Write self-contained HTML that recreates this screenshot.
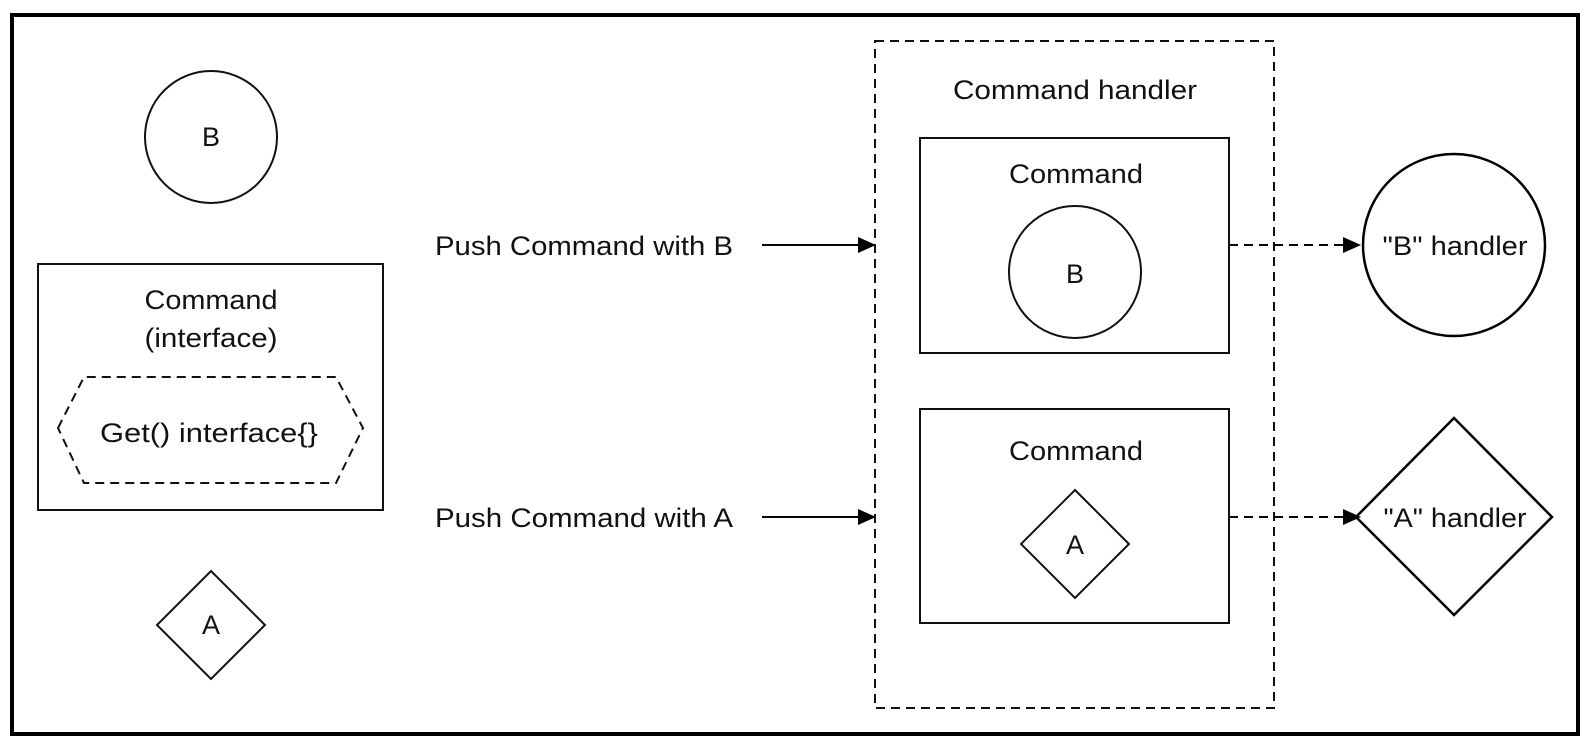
<!DOCTYPE html>
<html><head><meta charset="utf-8"><style>
html,body{margin:0;padding:0;background:#fff;}
svg{display:block;}
text{font-family:"Liberation Sans",Arial,sans-serif;font-size:27px;fill:#111;}
</style></head><body>
<svg width="1594" height="742" viewBox="0 0 1594 742" xmlns="http://www.w3.org/2000/svg">
<defs>
<marker id="ar" markerWidth="20" markerHeight="20" refX="18" refY="8" orient="auto" markerUnits="userSpaceOnUse">
<path d="M0,0 L18,8 L0,16 Z" fill="#000"/>
</marker>
</defs>
<rect x="12" y="15" width="1566" height="719" fill="#fff" stroke="#000" stroke-width="4"/>

<circle cx="211" cy="137" r="66" fill="none" stroke="#111" stroke-width="2"/>
<text x="211" y="146" text-anchor="middle">B</text>

<rect x="38" y="264" width="345" height="246" fill="none" stroke="#111" stroke-width="2"/>
<text x="211" y="309" text-anchor="middle" textLength="133" lengthAdjust="spacingAndGlyphs">Command</text>
<text x="211" y="347" text-anchor="middle" textLength="133" lengthAdjust="spacingAndGlyphs">(interface)</text>
<polygon points="58,428 84,377 336,377 363,428 336,483 84,483" fill="none" stroke="#111" stroke-width="2" stroke-dasharray="9,6"/>
<text x="209" y="442" text-anchor="middle" textLength="218" lengthAdjust="spacingAndGlyphs">Get() interface{}</text>

<polygon points="211,571 265,625 211,679 157,625" fill="none" stroke="#111" stroke-width="2"/>
<text x="211" y="634" text-anchor="middle">A</text>

<text x="435" y="255" textLength="298" lengthAdjust="spacingAndGlyphs">Push Command with B</text>
<line x1="762" y1="245" x2="876" y2="245" stroke="#000" stroke-width="2" marker-end="url(#ar)"/>
<text x="435" y="527" textLength="298" lengthAdjust="spacingAndGlyphs">Push Command with A</text>
<line x1="762" y1="517" x2="876" y2="517" stroke="#000" stroke-width="2" marker-end="url(#ar)"/>

<rect x="875" y="41" width="399" height="667" fill="none" stroke="#111" stroke-width="2" stroke-dasharray="9,6"/>
<text x="1075" y="99" text-anchor="middle" textLength="244" lengthAdjust="spacingAndGlyphs">Command handler</text>

<rect x="920" y="138" width="309" height="215" fill="none" stroke="#111" stroke-width="2"/>
<text x="1076" y="183" text-anchor="middle" textLength="134" lengthAdjust="spacingAndGlyphs">Command</text>
<circle cx="1075" cy="272" r="66" fill="none" stroke="#111" stroke-width="2"/>
<text x="1075" y="283" text-anchor="middle">B</text>

<rect x="920" y="409" width="309" height="214" fill="none" stroke="#111" stroke-width="2"/>
<text x="1076" y="460" text-anchor="middle" textLength="134" lengthAdjust="spacingAndGlyphs">Command</text>
<polygon points="1075,490 1129,544 1075,598 1021,544" fill="none" stroke="#111" stroke-width="2"/>
<text x="1075" y="554" text-anchor="middle">A</text>

<line x1="1229" y1="245" x2="1361" y2="245" stroke="#000" stroke-width="2" stroke-dasharray="9,6" marker-end="url(#ar)"/>
<line x1="1229" y1="517" x2="1361" y2="517" stroke="#000" stroke-width="2" stroke-dasharray="9,6" marker-end="url(#ar)"/>

<circle cx="1454" cy="245" r="91" fill="none" stroke="#000" stroke-width="2.5"/>
<text x="1455" y="255" text-anchor="middle" textLength="145" lengthAdjust="spacingAndGlyphs">"B" handler</text>
<polygon points="1454,418 1552,517 1454,615 1356,517" fill="none" stroke="#000" stroke-width="2.5"/>
<text x="1455" y="527" text-anchor="middle" textLength="143" lengthAdjust="spacingAndGlyphs">"A" handler</text>
</svg>
</body></html>
